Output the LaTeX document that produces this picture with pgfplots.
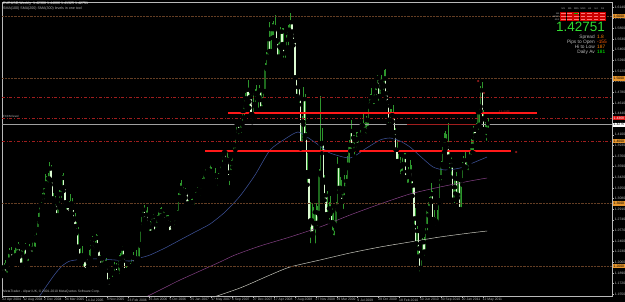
\documentclass[border=0pt]{standalone}
\usepackage{fontspec}
\setmainfont{Liberation Sans}
\usepackage{pgfplots}
\usepackage{pgfplotstable}
\pgfplotsset{compat=1.18}
\definecolor{wick}{RGB}{45,150,45}
\definecolor{bull}{RGB}{30,105,30}
\definecolor{bear}{RGB}{220,250,210}
\definecolor{lvl}{RGB}{100,62,36}
\definecolor{dred}{RGB}{160,30,30}
\definecolor{tred}{RGB}{255,25,25}
\definecolor{mablue}{RGB}{60,80,150}
\definecolor{mapurp}{RGB}{135,65,135}
\definecolor{malight}{RGB}{200,200,190}
\definecolor{lbl}{RGB}{185,185,185}
\definecolor{orng}{RGB}{232,150,45}
\pgfplotstableread{
o h l c
1.197 1.201 1.185 1.190
1.190 1.205 1.183 1.198
1.198 1.209 1.176 1.186
1.186 1.205 1.180 1.202
1.202 1.222 1.195 1.210
1.210 1.229 1.205 1.222
1.222 1.230 1.205 1.210
1.210 1.220 1.201 1.214
1.214 1.225 1.208 1.216
1.216 1.232 1.210 1.217
1.217 1.235 1.213 1.232
1.232 1.238 1.222 1.230
1.230 1.235 1.215 1.220
1.220 1.226 1.198 1.202
1.202 1.232 1.200 1.228
1.228 1.235 1.215 1.232
1.232 1.236 1.210 1.214
1.214 1.222 1.200 1.217
1.217 1.228 1.205 1.222
1.222 1.235 1.215 1.228
1.228 1.232 1.213 1.219
1.219 1.244 1.217 1.241
1.241 1.249 1.228 1.242
1.242 1.250 1.227 1.246
1.246 1.263 1.240 1.259
1.259 1.284 1.255 1.275
1.275 1.298 1.270 1.297
1.297 1.302 1.288 1.298
1.298 1.316 1.293 1.311
1.311 1.330 1.304 1.328
1.328 1.347 1.320 1.332
1.332 1.344 1.322 1.330
1.330 1.348 1.325 1.340
1.340 1.367 1.338 1.356
1.356 1.362 1.330 1.337
1.337 1.338 1.304 1.308
1.308 1.316 1.296 1.302
1.302 1.312 1.292 1.304
1.304 1.306 1.277 1.281
1.281 1.301 1.276 1.298
1.298 1.322 1.293 1.315
1.315 1.327 1.306 1.325
1.325 1.346 1.323 1.341
1.341 1.348 1.320 1.326
1.326 1.329 1.296 1.302
1.302 1.304 1.287 1.296
1.296 1.299 1.275 1.284
1.284 1.304 1.280 1.296
1.296 1.315 1.290 1.300
1.300 1.308 1.284 1.293
1.293 1.296 1.273 1.276
1.276 1.284 1.262 1.264
1.264 1.270 1.252 1.256
1.256 1.262 1.230 1.231
1.231 1.233 1.210 1.214
1.214 1.229 1.207 1.217
1.217 1.232 1.206 1.212
1.212 1.214 1.195 1.210
1.210 1.211 1.187 1.193
1.193 1.218 1.190 1.215
1.215 1.218 1.199 1.206
1.206 1.225 1.202 1.212
1.212 1.242 1.210 1.237
1.237 1.248 1.230 1.243
1.243 1.245 1.218 1.225
1.225 1.240 1.219 1.234
1.234 1.251 1.230 1.245
1.245 1.249 1.225 1.229
1.229 1.232 1.210 1.213
1.213 1.218 1.199 1.202
1.202 1.215 1.196 1.212
1.212 1.214 1.195 1.198
1.198 1.210 1.190 1.205
1.205 1.212 1.192 1.199
1.199 1.202 1.173 1.175
1.175 1.180 1.164 1.167
1.167 1.181 1.166 1.176
1.176 1.186 1.170 1.179
1.179 1.191 1.172 1.188
1.188 1.206 1.185 1.199
1.199 1.204 1.188 1.190
1.190 1.194 1.180 1.184
1.184 1.218 1.182 1.212
1.212 1.221 1.200 1.205
1.205 1.232 1.203 1.228
1.228 1.231 1.208 1.215
1.215 1.217 1.192 1.193
1.193 1.200 1.188 1.193
1.193 1.196 1.183 1.194
1.194 1.200 1.185 1.192
1.192 1.204 1.186 1.200
1.200 1.216 1.196 1.214
1.214 1.222 1.200 1.204
1.204 1.216 1.198 1.212
1.212 1.225 1.206 1.211
1.211 1.216 1.201 1.212
1.212 1.238 1.210 1.235
1.235 1.264 1.232 1.262
1.262 1.284 1.258 1.282
1.282 1.293 1.268 1.290
1.290 1.298 1.270 1.275
1.275 1.290 1.270 1.282
1.282 1.295 1.265 1.268
1.268 1.270 1.252 1.262
1.262 1.272 1.249 1.253
1.253 1.282 1.251 1.279
1.279 1.283 1.266 1.272
1.272 1.278 1.250 1.255
1.255 1.275 1.253 1.266
1.266 1.282 1.259 1.277
1.277 1.290 1.273 1.276
1.276 1.293 1.270 1.288
1.288 1.294 1.275 1.280
1.280 1.288 1.275 1.282
1.282 1.287 1.271 1.273
1.273 1.282 1.266 1.270
1.270 1.282 1.265 1.276
1.276 1.282 1.266 1.268
1.268 1.272 1.252 1.254
1.254 1.260 1.248 1.255
1.255 1.265 1.250 1.262
1.262 1.278 1.258 1.276
1.276 1.283 1.269 1.281
1.281 1.289 1.276 1.285
1.285 1.316 1.280 1.310
1.310 1.333 1.305 1.325
1.325 1.337 1.318 1.321
1.321 1.327 1.310 1.313
1.313 1.322 1.304 1.316
1.316 1.325 1.309 1.320
1.320 1.322 1.297 1.300
1.300 1.306 1.289 1.294
1.294 1.300 1.286 1.296
1.296 1.307 1.289 1.302
1.302 1.309 1.293 1.295
1.295 1.312 1.294 1.310
1.310 1.318 1.306 1.314
1.314 1.327 1.308 1.322
1.322 1.324 1.309 1.316
1.316 1.325 1.310 1.321
1.321 1.337 1.319 1.333
1.333 1.341 1.327 1.336
1.336 1.352 1.331 1.349
1.349 1.361 1.345 1.358
1.358 1.364 1.350 1.361
1.361 1.368 1.355 1.365
1.365 1.366 1.349 1.352
1.352 1.359 1.344 1.350
1.350 1.352 1.342 1.345
1.345 1.351 1.342 1.345
1.345 1.356 1.334 1.336
1.336 1.342 1.326 1.335
1.335 1.348 1.333 1.344
1.344 1.355 1.338 1.353
1.353 1.366 1.350 1.363
1.363 1.378 1.359 1.378
1.378 1.385 1.372 1.382
1.382 1.384 1.359 1.368
1.368 1.384 1.365 1.370
1.370 1.375 1.339 1.342
1.342 1.353 1.326 1.350
1.350 1.369 1.344 1.365
1.365 1.380 1.358 1.379
1.379 1.395 1.375 1.393
1.393 1.412 1.385 1.410
1.410 1.428 1.405 1.426
1.426 1.428 1.404 1.416
1.416 1.423 1.407 1.418
1.418 1.431 1.410 1.429
1.429 1.450 1.426 1.448
1.448 1.468 1.438 1.460
1.460 1.476 1.455 1.468
1.468 1.485 1.466 1.482
1.482 1.497 1.462 1.463
1.463 1.477 1.453 1.470
1.470 1.474 1.439 1.443
1.443 1.447 1.430 1.440
1.440 1.476 1.436 1.459
1.459 1.483 1.455 1.475
1.475 1.490 1.468 1.477
1.477 1.479 1.450 1.470
1.470 1.489 1.465 1.481
1.481 1.483 1.451 1.452
1.452 1.470 1.451 1.465
1.465 1.483 1.460 1.480
1.480 1.524 1.478 1.518
1.518 1.543 1.515 1.535
1.535 1.567 1.532 1.563
1.563 1.590 1.543 1.544
1.544 1.583 1.540 1.579
1.579 1.588 1.565 1.583
1.583 1.592 1.566 1.581
1.581 1.602 1.578 1.582
1.582 1.585 1.558 1.561
1.561 1.565 1.528 1.535
1.535 1.560 1.532 1.551
1.551 1.583 1.548 1.575
1.575 1.580 1.549 1.555
1.555 1.580 1.530 1.540
1.540 1.552 1.530 1.549
1.549 1.569 1.543 1.562
1.562 1.585 1.550 1.578
1.578 1.588 1.567 1.572
1.572 1.604 1.570 1.590
1.590 1.594 1.568 1.575
1.575 1.578 1.553 1.560
1.560 1.562 1.500 1.502
1.502 1.505 1.468 1.472
1.472 1.489 1.465 1.486
1.486 1.488 1.458 1.468
1.468 1.470 1.388 1.395
1.395 1.440 1.390 1.431
1.431 1.487 1.426 1.467
1.467 1.475 1.404 1.409
1.409 1.414 1.347 1.350
1.350 1.380 1.330 1.343
1.343 1.346 1.265 1.271
1.271 1.302 1.233 1.273
1.273 1.300 1.248 1.252
1.252 1.295 1.250 1.268
1.268 1.290 1.233 1.286
1.286 1.300 1.262 1.269
1.269 1.296 1.260 1.285
1.285 1.355 1.282 1.349
1.349 1.472 1.345 1.395
1.395 1.420 1.380 1.397
1.397 1.400 1.333 1.338
1.338 1.346 1.305 1.313
1.313 1.317 1.275 1.283
1.283 1.320 1.280 1.280
1.280 1.302 1.271 1.292
1.292 1.312 1.283 1.287
1.287 1.293 1.254 1.270
1.270 1.286 1.246 1.267
1.267 1.274 1.245 1.264
1.264 1.302 1.259 1.295
1.295 1.374 1.290 1.360
1.360 1.363 1.318 1.325
1.325 1.342 1.312 1.318
1.318 1.337 1.302 1.304
1.304 1.322 1.288 1.322
1.322 1.345 1.310 1.324
1.324 1.346 1.319 1.336
1.336 1.376 1.330 1.362
1.362 1.401 1.356 1.394
1.394 1.417 1.384 1.416
1.416 1.434 1.384 1.393
1.393 1.410 1.385 1.405
1.405 1.410 1.375 1.401
1.401 1.414 1.387 1.403
1.403 1.415 1.385 1.394
1.394 1.412 1.391 1.410
1.410 1.429 1.405 1.421
1.421 1.427 1.404 1.425
1.425 1.445 1.414 1.418
1.418 1.429 1.404 1.409
1.409 1.440 1.405 1.434
1.434 1.436 1.416 1.433
1.433 1.460 1.421 1.457
1.457 1.475 1.454 1.470
1.470 1.484 1.463 1.470
1.470 1.473 1.452 1.464
1.464 1.481 1.456 1.478
1.478 1.491 1.470 1.489
1.489 1.506 1.487 1.501
1.501 1.503 1.461 1.472
1.472 1.502 1.470 1.495
1.495 1.506 1.485 1.491
1.491 1.496 1.479 1.489
1.489 1.514 1.487 1.500
1.500 1.515 1.469 1.476
1.476 1.480 1.456 1.462
1.462 1.464 1.426 1.434
1.434 1.451 1.425 1.433
1.433 1.451 1.425 1.441
1.441 1.458 1.431 1.440
1.440 1.445 1.407 1.414
1.414 1.420 1.386 1.386
1.386 1.402 1.367 1.368
1.368 1.379 1.355 1.362
1.362 1.374 1.344 1.359
1.359 1.365 1.343 1.362
1.362 1.374 1.349 1.363
1.363 1.381 1.362 1.375
1.375 1.380 1.341 1.342
1.342 1.353 1.327 1.351
1.351 1.359 1.330 1.345
1.345 1.369 1.342 1.351
1.351 1.362 1.328 1.339
1.339 1.342 1.312 1.329
1.329 1.330 1.263 1.276
1.276 1.292 1.235 1.236
1.236 1.264 1.215 1.256
1.256 1.258 1.215 1.228
1.228 1.229 1.188 1.197
1.197 1.220 1.195 1.218
1.218 1.245 1.212 1.238
1.238 1.247 1.213 1.223
1.223 1.266 1.222 1.264
1.264 1.296 1.254 1.293
1.293 1.302 1.281 1.290
1.290 1.310 1.288 1.305
1.305 1.333 1.302 1.315
1.315 1.320 1.270 1.275
1.275 1.289 1.270 1.274
1.274 1.279 1.259 1.271
1.271 1.290 1.262 1.267
1.267 1.307 1.265 1.305
1.305 1.342 1.300 1.342
1.342 1.368 1.334 1.363
1.363 1.396 1.359 1.394
1.394 1.412 1.382 1.401
1.401 1.416 1.384 1.390
1.390 1.411 1.389 1.395
1.395 1.428 1.372 1.375
1.375 1.383 1.353 1.368
1.368 1.375 1.342 1.361
1.361 1.364 1.304 1.306
1.306 1.340 1.297 1.326
1.326 1.342 1.316 1.340
1.340 1.350 1.310 1.314
1.314 1.340 1.309 1.339
1.339 1.342 1.290 1.291
1.291 1.340 1.286 1.337
1.337 1.366 1.330 1.361
1.361 1.376 1.356 1.369
1.369 1.382 1.355 1.358
1.358 1.370 1.343 1.350
1.350 1.376 1.347 1.369
1.369 1.386 1.364 1.375
1.375 1.403 1.372 1.392
1.392 1.401 1.382 1.392
1.392 1.424 1.381 1.418
1.418 1.424 1.404 1.409
1.409 1.428 1.404 1.423
1.423 1.448 1.415 1.446
1.446 1.458 1.426 1.455
1.455 1.488 1.448 1.481
1.481 1.494 1.434 1.436
1.436 1.450 1.418 1.419
1.419 1.431 1.407 1.415
1.415 1.429 1.397 1.418
1.418 1.437 1.415 1.428
}\candles
\begin{document}
\begin{tikzpicture}[font=\fontsize{3.6}{4}\selectfont]
\useasboundingbox (0,0) rectangle (625pt,302pt);
\fill[black] (0,0) rectangle (625pt,302pt);
\begin{axis}[
  at={(2pt,6pt)}, anchor=south west, scale only axis,
  width=610pt, height=294pt,
  xmin=-0.5, xmax=466.9, ymin=1.152, ymax=1.6224,
  axis line style={draw=lbl, line width=0.5pt},
  tick style={lbl, line width=0.4pt},
  tick align=outside, major tick length=1.8pt,
  xtick pos=bottom, ytick pos=right, yticklabel pos=right,
  xtick={0,16,...,368},
  xticklabels={22 Apr 2004,12 Aug 2004,2 Dec 2004,24 Mar 2005,14 Jul 2005,3 Nov 2005,23 Feb 2006,15 Jun 2006,5 Oct 2006,25 Jan 2007,17 May 2007,6 Sep 2007,27 Dec 2007,17 Apr 2008,7 Aug 2008,27 Nov 2008,19 Mar 2009,9 Jul 2009,29 Oct 2009,18 Feb 2010,10 Jun 2010,30 Sep 2010,20 Jan 2011,12 May 2011},
  xticklabel style={anchor=north west, text=lbl, inner sep=0.6pt, xshift=-1pt, font=\fontsize{3.4}{4}\selectfont},
  ytick={1.155,1.172,...,1.615},
  yticklabel style={text=lbl, inner sep=0.8pt, font=\fontsize{3.4}{4}\selectfont,
    /pgf/number format/.cd, fixed, fixed zerofill, precision=4},
  /pgf/number format/assume math mode=true,
]
% wicks
\addplot[only marks, mark=none, forget plot,
  error bars/.cd, y dir=plus, y explicit, error mark=none,
  error bar style={draw=wick, line width=0.5pt}]
  table[x expr=\coordindex*1.087, y=l, y error expr=\thisrow{h}-\thisrow{l}] {\candles};
% bull bodies (hollow green outline on black)
\addplot[only marks, mark=none, forget plot,
  error bars/.cd, y dir=plus, y explicit, error mark=none,
  error bar style={draw=bull, line width=1.25pt}]
  table[x expr=\coordindex*1.087, y=o, y error expr={max(\thisrow{c}-\thisrow{o},0)}] {\candles};
% bear bodies (white)
\addplot[only marks, mark=none, forget plot,
  error bars/.cd, y dir=plus, y explicit, error mark=none,
  error bar style={draw=bear, line width=1.25pt}]
  table[x expr=\coordindex*1.087, y=c, y error expr={max(\thisrow{o}-\thisrow{c},0)}] {\candles};
% moving averages
\addplot[mablue, line width=0.55pt, smooth, tension=0.4] coordinates {
(26.3,1.1456) (32.5,1.1648) (40.1,1.1872) (45.5,1.2000) (51.6,1.2080) (63.1,1.2112) (74.6,1.2112) (86.1,1.2096) (97.6,1.2080) (105.2,1.2128) (112.9,1.2176) (124.4,1.2288) (135.9,1.2416) (147.4,1.2544) (158.9,1.2672) (170.4,1.2864) (181.9,1.3120) (193.4,1.3456) (204.9,1.3856) (216.4,1.4032) (226.3,1.4144) (235.5,1.4032) (243.2,1.3920) (250.8,1.3808) (266.2,1.3728) (277.7,1.3872) (289.2,1.4016) (296.8,1.4048) (304.5,1.4000) (312.1,1.3904) (319.8,1.3760) (329.8,1.3584) (339.0,1.3536) (350.5,1.3568) (362.0,1.3664) (371.2,1.3744)};
\addplot[mapurp, line width=0.5pt, smooth, tension=0.4] coordinates {
(105.2,1.1456) (120.6,1.1616) (135.9,1.1776) (151.2,1.1920) (166.5,1.2064) (178.0,1.2176) (197.2,1.2320) (220.2,1.2464) (243.2,1.2624) (266.2,1.2816) (289.2,1.2992) (312.1,1.3152) (335.1,1.3264) (358.1,1.3360) (371.2,1.3408)};
\addplot[malight, line width=0.5pt, smooth, tension=0.4] coordinates {
(155.1,1.1456) (181.9,1.1648) (204.9,1.1856) (220.2,1.1984) (243.2,1.2096) (266.2,1.2208) (289.2,1.2304) (312.1,1.2384) (335.1,1.2464) (358.1,1.2528) (371.2,1.2560)};
% horizontal levels
\addplot[lvl, line width=0.45pt, densely dotted] coordinates {(-0.5,1.6) (466.9,1.6)};
\addplot[lvl, line width=0.45pt, densely dotted] coordinates {(-0.5,1.5) (466.9,1.5)};
\addplot[lvl, line width=0.45pt, densely dotted] coordinates {(-0.5,1.3) (466.9,1.3)};
\addplot[lvl, line width=0.45pt, densely dotted] coordinates {(-0.5,1.2) (466.9,1.2)};
\addplot[dred, line width=0.45pt, dash dot] coordinates {(-0.5,1.4) (466.9,1.4)};
\addplot[dred, line width=0.45pt, dash dot] coordinates {(-0.5,1.4704) (466.9,1.4704)};
\addplot[dred, line width=0.5pt, dash dot] coordinates {(-0.5,1.4368) (466.9,1.4368)};
\addplot[gray!75, line width=0.5pt] coordinates {(-0.5,1.4275) (466.9,1.4275)};
\addplot[dred, line width=0.8pt] coordinates {(309.8,1.4267) (365.8,1.4267)};
\addplot[tred, line width=2.2pt] coordinates {(172.7,1.4448) (409.5,1.4448)};
\addplot[tred, line width=2.2pt] coordinates {(155.1,1.3845) (389.5,1.3845)};
\addplot[only marks, mark=o, mark size=0.9pt, dred, line width=0.4pt] coordinates {(364.3,1.4960) (368.8,1.4768) (393.4,1.3824)};
\node[anchor=west, text=dred, inner sep=0, font=\fontsize{2.8}{3}\selectfont] at (axis cs:380,1.4470) {\# 1.4448};
\node[anchor=south west, text=lbl, inner sep=0.3pt, font=\fontsize{3}{3}\selectfont] at (axis cs:0,1.4375) {FXCM level};
\end{axis}
% right price labels
\foreach \v/\yy in {1.6000/286, 1.5000/223.5, 1.4000/161, 1.3000/98.5, 1.2000/36}{
  \fill[orng] (613pt,\yy pt-2.1pt) rectangle (625pt,\yy pt+2.1pt);
  \node[anchor=west, inner sep=0, text=black, font=\fontsize{3.4}{4}\selectfont] at (613.5pt,\yy pt) {\v};
}
\fill[tred!85!black] (613pt,184pt-2.1pt) rectangle (625pt,184pt+2.1pt);
\node[anchor=west, inner sep=0, text=white, font=\fontsize{3.4}{4}\selectfont] at (613.5pt,184pt) {1.4368};
\fill[white] (613pt,177.2pt-2.1pt) rectangle (625pt,177.2pt+2.1pt);
\node[anchor=west, inner sep=0, text=black, font=\fontsize{3.4}{4}\selectfont] at (613.5pt,177.2pt) {1.4275};
% top-left header
\node[anchor=north west, inner sep=0, text=white] at (3pt,300pt) {EURUSD,Weekly\ \ 1.42308 1.44886 1.41325 1.42751};
\node[anchor=north west, inner sep=0, text=lbl] at (3pt,295.5pt) {SMA(100) SMA(200) SMA(300) levels in one tool};
% copyright
\node[anchor=west, inner sep=0, text=lbl, font=\fontsize{3.3}{4}\selectfont] at (3pt,10pt) {MetaTrader - Alpari UK, \textcopyright{} 2001-2010 MetaQuotes Software Corp.};
% info panel: signal table
\foreach \i/\lab in {0/M1,1/M5,2/M15,3/M30,4/H1,5/H4,6/D1}{
  \node[text=lbl, inner sep=0, font=\fontsize{2.4}{3}\selectfont] at ({563.3pt+\i*6.57pt},293pt) {\lab};
  \foreach \r in {0,1,2}{
    \fill[red!80!black] ({560pt+\i*6.57pt},{290pt-\r*3pt}) rectangle ({560pt+\i*6.57pt+6.3pt},{287.2pt-\r*3pt});
    \fill[red!55!white] ({560.8pt+\i*6.57pt},{289pt-\r*3pt}) rectangle ({560pt+\i*6.57pt+5.5pt},{288.3pt-\r*3pt});
  }
}
\fill[green!70!black] (574.3pt,289.3pt) rectangle (578pt,288pt);
\foreach \r/\lab in {0/MA,1/MACD,2/ADX}{
  \node[anchor=east, text=lbl, inner sep=0, font=\fontsize{2.2}{3}\selectfont] at (559.5pt,{288.6pt-\r*3pt}) {\lab};
}
\node[anchor=base east, inner sep=0, text depth=0pt, text={rgb,255:red,50;green,220;blue,50}, font=\fontsize{13.5}{14}\selectfont] at (605pt,270pt) {1.42751};
\foreach \yy/\lab/\val/\col in {263.5/Spread/1.8/orange, 258/Pips to Open/-155/orange!70!red, 253/Hi to Low/187/orange, 248/Daily Av/181/green}{
  \node[anchor=base east, inner sep=0, text=lbl, font=\fontsize{4.8}{5}\selectfont] at (595pt,\yy pt) {\lab};
  \node[anchor=base west, inner sep=0, text=\col, font=\fontsize{4.8}{5}\selectfont] at (597pt,\yy pt) {\val};
}
\end{tikzpicture}
\end{document}
